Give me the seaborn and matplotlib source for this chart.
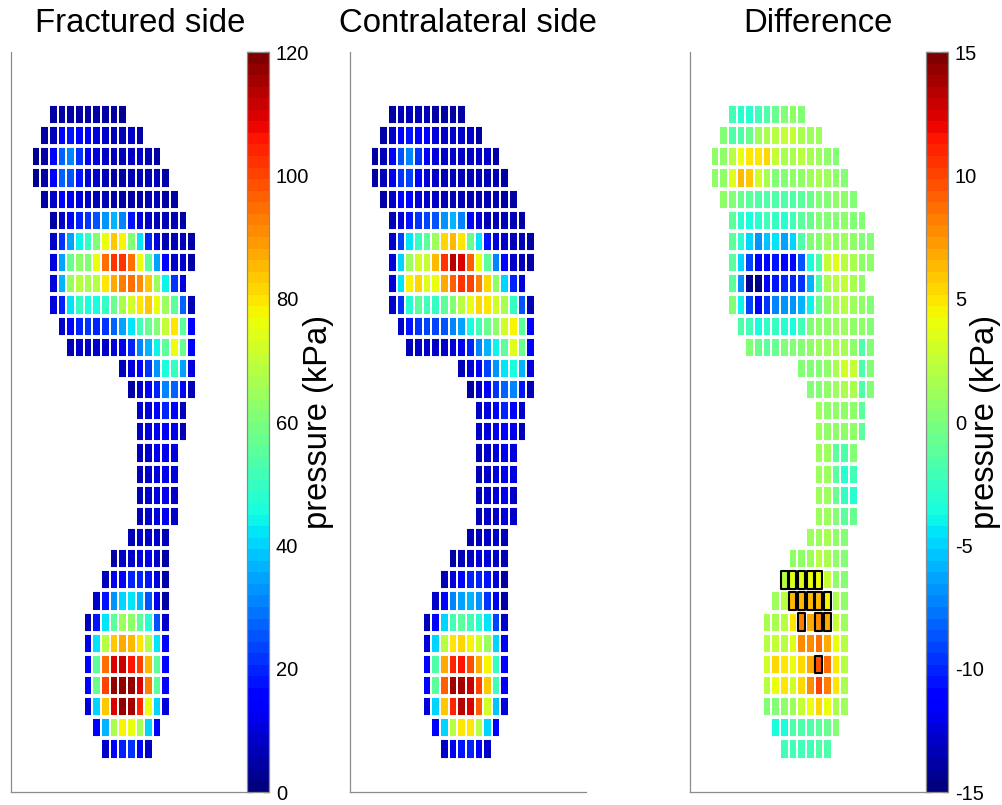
import numpy as np
import pandas as pd
import matplotlib
matplotlib.use("Agg")
import matplotlib.pyplot as plt
import seaborn as sns
from matplotlib.patches import Rectangle

# ---------------- data ----------------
N_COLS = 19
# first sensor column of each sensor row (heel at bottom)
ROW_START = [2, 1, 0, 0, 1, 2, 2, 2, 2, 2, 3, 4, 10, 11, 12, 12, 12, 12, 12, 12,
             11, 9, 8, 7, 6, 6, 6, 6, 6, 7, 8]

FRACTURED = [
    [4, 5, 5, 5, 5, 4, 4, 4, 3],
    [4, 7, 14, 18, 16, 14, 10, 8, 7, 7, 8, 4],
    [3, 4, 14, 28, 30, 22, 14, 10, 8, 7, 7, 8, 8, 7, 4],
    [3, 4, 14, 27, 26, 17, 10, 8, 6, 5, 5, 6, 6, 6, 6, 4],
    [4, 9, 14, 13, 10, 8, 7, 6, 5, 5, 5, 5, 6, 6, 5, 4],
    [5, 9, 15, 19, 22, 25, 33, 36, 30, 17, 10, 8, 6, 6, 6, 5],
    [9, 22, 35, 44, 50, 60, 76, 84, 78, 60, 43, 20, 10, 7, 6, 6, 5],
    [10, 35, 58, 62, 60, 75, 95, 103, 103, 94, 76, 55, 35, 15, 9, 8, 5],
    [10, 36, 65, 68, 66, 68, 80, 88, 92, 95, 90, 83, 64, 44, 22, 10],
    [10, 20, 42, 49, 45, 45, 50, 58, 66, 72, 80, 83, 75, 65, 55, 28, 6],
    [9, 15, 20, 22, 20, 22, 28, 34, 42, 52, 58, 60, 70, 80, 55, 14],
    [6, 8, 8, 9, 9, 10, 12, 20, 30, 37, 44, 55, 75, 57, 14],
    [6, 10, 15, 22, 32, 45, 50, 35, 10],
    [5, 9, 14, 20, 30, 28, 16, 6],
    [8, 10, 14, 20, 14, 7],
    [8, 10, 13, 14, 12, 6],
    [7, 9, 12, 13, 10],
    [7, 9, 11, 13, 10],
    [7, 9, 11, 13, 9],
    [7, 9, 10, 12, 8],
    [6, 8, 8, 8, 6],
    [5, 8, 9, 11, 12, 9, 5],
    [6, 12, 16, 20, 20, 17, 10, 5],
    [8, 18, 32, 40, 42, 37, 25, 13, 5],
    [6, 18, 42, 56, 64, 62, 56, 48, 26, 8],
    [13, 42, 68, 83, 88, 85, 80, 68, 42, 14],
    [15, 56, 95, 110, 112, 106, 100, 86, 55, 15],
    [15, 57, 100, 118, 118, 118, 110, 93, 55, 15],
    [11, 40, 83, 110, 117, 115, 104, 75, 40, 11],
    [14, 37, 67, 78, 76, 66, 40, 14],
    [9, 14, 20, 22, 15, 8],
]

CONTRALATERAL = [
    [5, 6, 6, 6, 6, 5, 5, 5, 4],
    [5, 9, 16, 18, 16, 14, 11, 9, 8, 8, 8, 5],
    [4, 7, 14, 26, 30, 22, 14, 10, 8, 8, 8, 8, 8, 8, 5],
    [4, 6, 12, 22, 24, 16, 10, 8, 6, 6, 6, 6, 6, 6, 6, 4],
    [5, 9, 16, 15, 11, 9, 8, 7, 6, 6, 6, 6, 6, 6, 5, 4],
    [6, 11, 18, 22, 24, 26, 32, 36, 30, 15, 10, 7, 6, 6, 6, 5],
    [9, 24, 42, 50, 55, 64, 82, 86, 80, 58, 42, 18, 10, 9, 7, 6, 5],
    [10, 40, 65, 72, 70, 85, 103, 113, 110, 96, 76, 55, 30, 15, 9, 7, 5],
    [10, 42, 78, 82, 74, 75, 87, 97, 102, 100, 92, 82, 62, 40, 20, 10],
    [9, 22, 48, 56, 52, 50, 56, 60, 68, 75, 81, 80, 73, 66, 50, 25, 7],
    [9, 17, 22, 24, 23, 25, 30, 35, 46, 52, 58, 62, 72, 78, 55, 14],
    [6, 8, 9, 9, 9, 10, 13, 20, 30, 37, 44, 56, 74, 58, 14],
    [6, 10, 16, 23, 32, 42, 46, 36, 11],
    [5, 9, 14, 22, 28, 30, 18, 7],
    [8, 10, 14, 20, 14, 8],
    [8, 10, 13, 14, 12, 7],
    [7, 9, 11, 13, 10],
    [7, 9, 11, 13, 10],
    [7, 9, 11, 13, 9],
    [6, 8, 9, 10, 8],
    [6, 7, 8, 8, 6],
    [5, 6, 9, 11, 11, 9, 6],
    [6, 10, 15, 19, 20, 17, 10, 5],
    [8, 16, 30, 34, 36, 32, 22, 13, 5],
    [6, 16, 40, 52, 56, 52, 48, 42, 24, 8],
    [10, 40, 68, 80, 82, 78, 72, 64, 40, 12],
    [15, 54, 88, 104, 106, 98, 88, 78, 50, 14],
    [15, 55, 96, 115, 116, 111, 100, 84, 52, 14],
    [10, 40, 84, 104, 114, 110, 96, 73, 38, 10],
    [14, 40, 68, 80, 80, 68, 40, 14],
    [9, 13, 18, 20, 14, 8],
]

DIFFERENCE = [
    [-2, -3, -3, -2, -1.5, -0.5, 0, 0.5, 0],
    [0, -1.5, -1.5, -0.5, 1, 1.5, 2, 2.5, 2.5, 1.5, 1, 1],
    [0.5, 0.5, 2, 4, 5, 5, 5.5, 2.5, 1.5, 1.5, 2, 1.5, 1, 0.5, 0],
    [0.5, 0.5, 3.5, 6.5, 6, 3, 1.5, 0, 0, 0.5, 0.5, 1, 1.5, 1, 0.5, 0],
    [0.5, 0, -0.5, -1, -1.5, -1.5, -1.5, -1.5, -1.5, -1, -0.5, 0, 0, 0.5, 0.5, 0],
    [-1, -3, -3.5, -3, -2, -2.5, -3, -2, -1, -0.5, 0, 0, 0, 0.5, 0, 0],
    [-1, -3, -5, -7, -5.5, -4.5, -6.5, -5, -1.5, 0, 0, 1, 0.5, 1, 0.5, 0, 0],
    [-1, -5, -9, -11, -11, -10.5, -11, -11, -8.5, -3.5, -1.5, 2.5, 3.5, 2, 1.5, 0.5, 0.5],
    [-1, -7, -14.5, -15, -11.5, -10.5, -10, -10, -9.5, -6, -1.5, 1.5, 2, 2.5, 1.5, 0.5],
    [0, -4, -9, -11, -9.5, -7.5, -7, -7, -6, -4, -0.5, 0.5, 1.5, 2, 1, 0.5, 0],
    [-1.5, -2, -3.5, -2.5, -2.5, -3, -3.5, -2, 0, 0.5, 0.5, 1, 1, 0.5, 0.5, 0],
    [0, -0.5, -1, -0.5, 0, 0, 0, 0.5, 1, 1, 1.5, 1.5, 0.5, -1.5, 0],
    [0, 0, 0, 0.5, 1.5, 3, 2.5, -1.5, 0],
    [0, 0, 0.5, 1, 1.5, 1.5, -1.5, 0],
    [1, 0.5, 0.5, 0.5, 0.5, -1],
    [1, 0.5, 0.5, 0.5, 0.5, -1],
    [1, 1, -1, -1.5, 0],
    [1, 1, -1, -3, -2],
    [1, 1, -0.5, -2.5, -3],
    [1, 1, 0, -1, -0.5],
    [1, 1, 1.5, 0.5, 0],
    [0.5, 0.5, 1, 2, 1.5, 0.5, 0],
    [2, 3.5, 3.5, 4, 4, 2.5, 0.5, 0],
    [1, 2, 6.5, 6.5, 6.5, 6.5, 4.5, 1.5, 0.5],
    [1.5, 1.5, 2, 5, 8, 7, 7.5, 7, 2.5, 1],
    [2, 2.5, 2, 3.5, 7.5, 7.5, 8.5, 7, 4, 2],
    [3, 5.5, 5, 4, 5.5, 7, 9.5, 8.5, 5, 2],
    [2, 4, 5, 3, 5.5, 7.5, 10, 8, 5, 1.5],
    [0, 0, 0.5, 1, 2.5, 4, 5.5, 4, 1.5, 1],
    [-3.5, -3.5, -1.5, -1.5, -1.5, -1, -0.5, 0],
    [-2, -2, -2, -2, -1.5, -1.5],
]

# (row, column) of the sensors marked as significant in the difference map
SIGNIFICANT = [(22, 8), (22, 9), (22, 10), (22, 11), (22, 12),
               (23, 9), (23, 10), (23, 11), (23, 12), (23, 13),
               (24, 10), (24, 12), (24, 13),
               (26, 12)]

TITLES = ["Fractured side", "Contralateral side", "Difference"]
CBAR_LABEL = "pressure (kPa)"
PRESSURE_TICKS = [0, 20, 40, 60, 80, 100, 120]
DIFF_TICKS = [-15, -10, -5, 0, 5, 10, 15]


def to_grid(rows):
    grid = np.full((len(rows), N_COLS), np.nan)
    for r, (start, vals) in enumerate(zip(ROW_START, rows)):
        assert start + len(vals) <= N_COLS, (r, start, len(vals))
        grid[r, start:start + len(vals)] = vals
    return pd.DataFrame(grid)


# ---------------- style ----------------
sns.set_theme(style="white")
plt.rcParams["font.family"] = ["Liberation Sans", "DejaVu Sans"]
plt.rcParams["axes.unicode_minus"] = False

W, H = 1003, 805
fig = plt.figure(figsize=(W / 100, H / 100), dpi=100)


def px(left, top, width, height):
    return [left / W, 1 - (top + height) / H, width / W, height / H]


cmap = matplotlib.colormaps["jet"].resampled(64)

AX_TOP, AX_BOT = 52, 792
AX_LEFT = [11, 350, 690]
AX_W = 236
CB_LEFT = {0: 247.5, 2: 926.5}
CB_W = 21.5
TITLE_X = [140, 468, 818]
LABEL_X = {0: 318, 2: 986}

panels = [
    (FRACTURED, 0, 120, PRESSURE_TICKS),
    (CONTRALATERAL, 0, 120, None),
    (DIFFERENCE, -15, 15, DIFF_TICKS),
]

for i, (rows, vmin, vmax, ticks) in enumerate(panels):
    ax = fig.add_axes(px(AX_LEFT[i], AX_TOP, AX_W, AX_BOT - AX_TOP))
    if ticks is not None:
        cax = fig.add_axes(px(CB_LEFT[i], AX_TOP, CB_W, AX_BOT - AX_TOP))
        kw = dict(cbar=True, cbar_ax=cax)
    else:
        kw = dict(cbar=False)
    sns.heatmap(to_grid(rows), ax=ax, cmap=cmap, vmin=vmin, vmax=vmax,
                linewidths=1.4, linecolor="white",
                xticklabels=False, yticklabels=False, **kw)
    # taller white gaps between sensor rows
    ax.hlines(np.arange(len(rows) + 1), 0, N_COLS, colors="white",
              linewidth=2.8, zorder=2)
    ax.set_xlim(-2.41, 24.9)
    ax.set_ylim(32.53, -2.46)
    ax.set_xlabel("")
    ax.set_ylabel("")
    for s in ["left", "bottom"]:
        ax.spines[s].set_visible(True)
        ax.spines[s].set_color("#8c8c8c")
        ax.spines[s].set_linewidth(0.9)
    for s in ["top", "right"]:
        ax.spines[s].set_visible(False)

    if i == 2:
        for (r, c) in SIGNIFICANT:
            ax.add_patch(Rectangle((c + 0.1, r + 0.08), 0.8, 0.84, fill=False,
                                   edgecolor="black", linewidth=1.5,
                                   joinstyle="round", zorder=4))

    if ticks is not None:
        cbar = ax.collections[0].colorbar
        cbar.set_ticks(ticks)
        cbar.set_ticklabels([str(t) for t in ticks])
        cbar.outline.set_edgecolor("#8c8c8c")
        cbar.outline.set_linewidth(0.9)
        cax.tick_params(axis="y", direction="in", length=4, width=0.9,
                        color="#222222", left=True, right=True,
                        labelleft=False, labelright=True,
                        labelsize=14.5, pad=5, labelcolor="black")
        fig.text(LABEL_X[i] / W, 1 - 422 / H, CBAR_LABEL, rotation=90,
                 ha="center", va="center", fontsize=23.5, color="black")

    fig.text(TITLE_X[i] / W, 1 - 32 / H, TITLES[i], ha="center",
             va="baseline", fontsize=23.7, color="black")

fig.savefig("out.png", dpi=100)
